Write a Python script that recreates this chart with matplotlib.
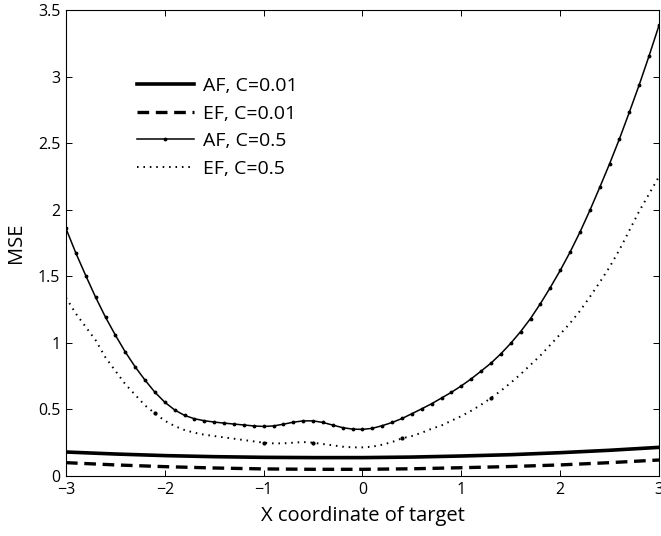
import numpy as np
import matplotlib
matplotlib.use("Agg")
import matplotlib.pyplot as plt
from matplotlib.ticker import FormatStrFormatter

plt.rcParams['font.family'] = ['Open Sans', 'DejaVu Sans']

# target x coordinate, sampled every 0.1
x_fine = np.linspace(-3, 3, 61)
# coarse grid for the C=0.01 curves
x_coarse = [-3, -2.5, -2, -1.5, -1, -0.5, 0, 0.5, 1, 1.5, 2, 2.5, 3]

af_c001 = [0.180, 0.165, 0.153, 0.145, 0.140, 0.138, 0.138, 0.142, 0.150,
           0.160, 0.175, 0.193, 0.215]
ef_c001 = [0.100, 0.083, 0.070, 0.060, 0.053, 0.050, 0.050, 0.054, 0.062,
           0.071, 0.083, 0.100, 0.120]

af_c05 = [1.860, 1.675, 1.506, 1.343, 1.193, 1.058, 0.932, 0.820, 0.720, 0.629,
          0.554, 0.496, 0.455, 0.430, 0.415, 0.405, 0.397, 0.390, 0.383, 0.376,
          0.372, 0.376, 0.389, 0.404, 0.414, 0.414, 0.402, 0.382, 0.363, 0.352,
          0.350, 0.358, 0.378, 0.402, 0.432, 0.468, 0.505, 0.543, 0.586, 0.629,
          0.677, 0.730, 0.788, 0.848, 0.918, 0.997, 1.085, 1.183, 1.295, 1.416,
          1.544, 1.682, 1.832, 1.995, 2.168, 2.346, 2.534, 2.734, 2.940, 3.158,
          3.386]
ef_c05 = [1.340, 1.220, 1.120, 1.020, 0.890, 0.790, 0.690, 0.610, 0.530, 0.470,
          0.415, 0.375, 0.345, 0.325, 0.310, 0.300, 0.290, 0.280, 0.270, 0.260,
          0.250, 0.245, 0.245, 0.250, 0.255, 0.250, 0.240, 0.230, 0.220, 0.215,
          0.215, 0.220, 0.235, 0.255, 0.283, 0.300, 0.325, 0.355, 0.380, 0.415,
          0.450, 0.490, 0.535, 0.586, 0.640, 0.700, 0.765, 0.835, 0.905, 0.985,
          1.065, 1.148, 1.240, 1.345, 1.455, 1.570, 1.700, 1.845, 1.990, 2.120,
          2.250]
ef_c05_dots = [9, 20, 25, 34, 43]

labels = ["AF, C=0.01", "EF, C=0.01", "AF, C=0.5", "EF, C=0.5"]

fig = plt.figure(figsize=(6.61, 5.36), dpi=100)
ax = fig.add_axes([0.0998, 0.112, 0.8972, 0.869])

ax.plot(x_coarse, af_c001, color="black", lw=2.6, label=labels[0])
ax.plot(x_coarse, ef_c001, color="black", lw=2.4, dashes=(3.5, 2.0),
        label=labels[1])
ax.plot(x_fine, af_c05, color="black", lw=1.1, marker=".", markersize=3.5,
        label=labels[2])
ax.plot(x_fine, ef_c05, color="black", lw=1.4, dashes=(0.8, 2.5),
        marker=".", markersize=4, markevery=ef_c05_dots, label=labels[3])

ax.set_xlim(-3, 3)
ax.set_ylim(0, 3.5)
ax.set_xticks(np.arange(-3, 4, 1))
ax.set_yticks(np.arange(0, 3.51, 0.5))
ax.yaxis.set_major_formatter(FormatStrFormatter('%g'))
ax.tick_params(direction="in", top=True, right=True, length=4.5,
               width=0.7, labelsize=11.5, pad=4)
for s in ax.spines.values():
    s.set_linewidth(0.8)

ax.set_xlabel("X coordinate of target", fontsize=14.5, labelpad=6)
ax.set_ylabel("MSE", fontsize=14.5, labelpad=9)

# legend handles drop the sparse dots on the dotted curve
h, l = ax.get_legend_handles_labels()
leg = ax.legend(h, l, loc="upper left", bbox_to_anchor=(0.12, 0.857),
                frameon=False, fontsize=14, handlelength=2.9,
                handletextpad=0.5, labelspacing=0.5, borderpad=0,
                borderaxespad=0)
leg.legend_handles[3].set_marker("")

fig.savefig("out.png", dpi=100)
